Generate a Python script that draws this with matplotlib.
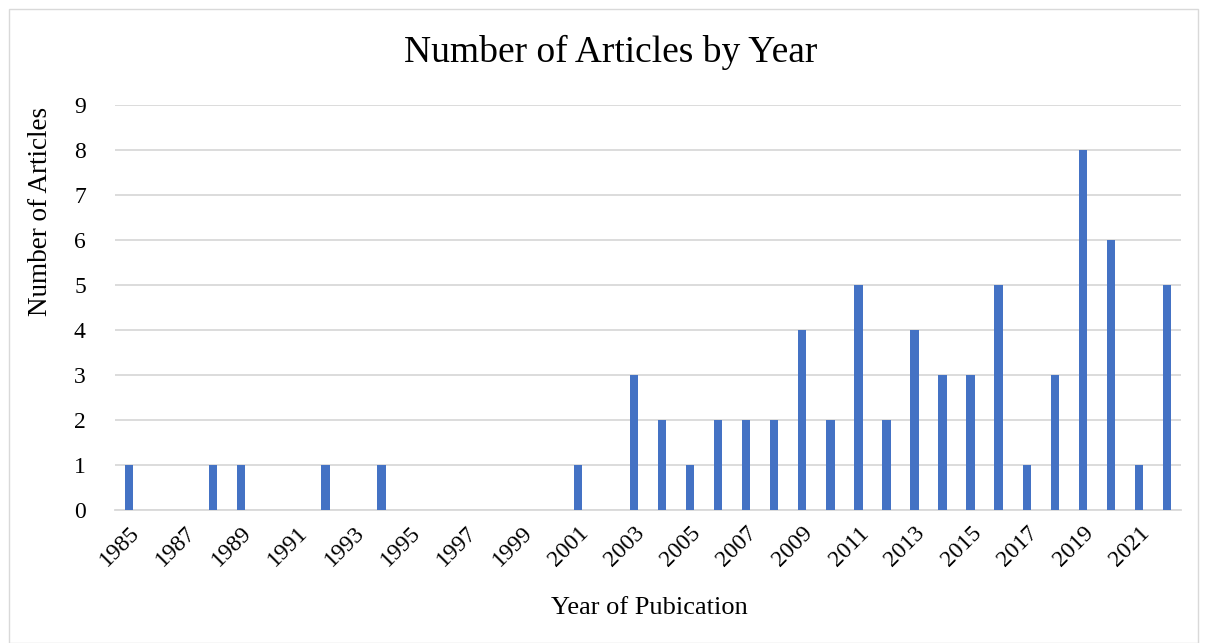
import matplotlib.pyplot as plt
import numpy as np

years = list(range(1985, 2023))
counts = [1, 0, 0, 1, 1, 0, 0, 1, 0, 1,
          0, 0, 0, 0, 0, 0, 1, 0, 3, 2,
          1, 2, 2, 2, 4, 2, 5, 2, 4, 3,
          3, 5, 1, 3, 8, 6, 1, 5]
tick_years = list(range(1985, 2022, 2))

plt.rcParams['font.family'] = ['Liberation Serif', 'DejaVu Serif']

fig = plt.figure(figsize=(12.08, 6.43), dpi=100)
ax = fig.add_axes([115 / 1208, 1 - 510 / 643, (1181 - 115) / 1208, (510 - 105) / 643])

x = np.arange(len(years))
ax.bar(x, counts, width=0.3, color='#4472C4', zorder=3)

ax.set_xlim(-0.5, len(years) - 0.5)
ax.set_ylim(0, 9)
ax.set_yticks(range(0, 10))
ax.yaxis.grid(True, color='#d9d9d9', linewidth=1.3, zorder=0)

tick_pos = [years.index(y) for y in tick_years]
ax.set_xticks(tick_pos)
ax.set_xticklabels([str(y) for y in tick_years], rotation=45, ha='right',
                   rotation_mode='anchor')
ax.tick_params(axis='both', length=0, labelsize=17, colors='#000000')
ax.tick_params(axis='x', pad=9)
ax.tick_params(axis='y', pad=21)

for s in ['top', 'right', 'left']:
    ax.spines[s].set_visible(False)
ax.spines['bottom'].set_color('#d9d9d9')
ax.spines['bottom'].set_linewidth(1.3)

fig.text(41 / 1208, 1 - 211 / 643, 'Number of Articles', fontsize=19.5,
         rotation=90, ha='center', va='center')
fig.text(649 / 1208, 1 - 608 / 643, 'Year of Pubication', fontsize=19,
         ha='center', va='center')
fig.text(611 / 1208, 1 - 52 / 643, 'Number of Articles by Year', fontsize=27,
         ha='center', va='center')

# chart border
fig.patches.append(plt.Rectangle((9 / 1208, 0), 1189 / 1208, 1 - 9 / 643,
                                 transform=fig.transFigure, fill=False,
                                 edgecolor='#d9d9d9', linewidth=1))

fig.savefig('out.png', dpi=100)
